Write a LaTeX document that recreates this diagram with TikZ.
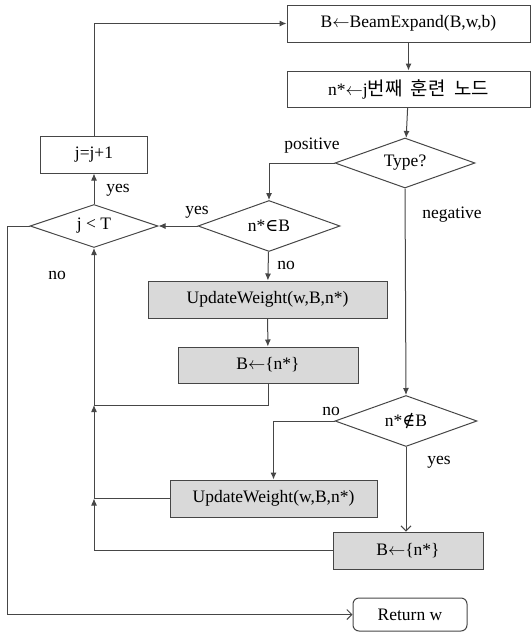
\documentclass[tikz,border=0pt]{standalone}
\usepackage{fontspec}
\setmainfont{Liberation Serif}
\newfontfamily\krfont[Scale=1.08]{Noto Sans CJK KR}
\newfontfamily\symfont{DejaVu Serif}
\usetikzlibrary{shapes.geometric,arrows.meta}
\definecolor{flowline}{RGB}{70,70,70}
\definecolor{flowgray}{RGB}{217,217,217}

\begin{document}
\begin{tikzpicture}[x=1pt,y=-1pt,
    font=\fontsize{17.5}{20}\selectfont,
    box/.style={draw=flowline, line width=1pt, inner sep=0pt},
    proc/.style={box, rectangle, minimum height=37pt},
    procgray/.style={proc, fill=flowgray},
    decide/.style={box, diamond, aspect=2.8},
    flow/.style={draw=flowline, line width=1pt, -{Latex[length=7pt,width=6pt]}},
    openflow/.style={draw=flowline, line width=1pt, -{Straight Barb[length=5pt,width=10pt]}},
    lbl/.style={inner sep=0pt}]
    \useasboundingbox (0,0) rectangle (532,632);

    % Main loop
    \node[proc, minimum width=243pt] (expand) at (408.5,23.5) {B$\leftarrow$BeamExpand(B,w,b)};
    \node[proc, minimum width=243pt, minimum height=36pt] (pick) at (408.5,89) {n*$\leftarrow$j{\krfont 번째\hspace{0.45em}훈련\hspace{0.45em}노드}};
    \node[decide, minimum width=140pt, minimum height=50pt] (type) at (405,163) {Type?};

    % Counter
    \node[proc, minimum width=107pt] (inc) at (94,154.5) {j=j+1};
    \node[decide, minimum width=128pt, minimum height=43pt] (loop) at (94,226) {j < T};

    % Positive branch
    \node[decide, minimum width=142pt, minimum height=51pt] (inB) at (269,226) {n*{\symfont ∈}B};
    \node[procgray, minimum width=239pt] (upd1) at (267.5,299.5) {UpdateWeight(w,B,n*)};
    \node[procgray, minimum width=180pt, minimum height=36pt] (set1) at (268,365) {B$\leftarrow$\{n*\}};

    % Negative branch
    \node[decide, minimum width=142pt, minimum height=51pt] (notinB) at (406,421) {n*{\symfont ∉}B};
    \node[procgray, minimum width=207pt] (upd2) at (273.5,498.5) {UpdateWeight(w,B,n*)};
    \node[procgray, minimum width=150pt] (set2) at (408,550.5) {B$\leftarrow$\{n*\}};

    % End
    \node[box, rounded corners=6pt, minimum width=114pt, minimum height=33pt] (ret) at (410,614.5) {Return w};

    \coordinate (m1) at (94,405);
    \coordinate (m2) at (94,498.5);
    \coordinate (rail) at (7,226);

    % Arrows
    \draw[flow] (expand) -- (pick);
    \draw[flow] (pick) -- (type);
    \draw[flow] (type.west) -| (inB.north);
    \draw[flow] (inB.west) -- (loop.east);
    \draw[flow] (inB) -- (upd1);
    \draw[flow] (upd1) -- (set1);
    \draw[flow] (set1.south) |- (m1) -- (loop.south);
    \draw[flow] (upd2.west) -- (m2) -- (m1);
    \draw[flow] (set2.west) -| (m2);
    \draw[flow] (loop) -- (inc);
    \draw[flow] (inc.north) |- (expand.west);
    \draw[flow] (type.south) -- (notinB.north);
    \draw[flow] (notinB.west) -| (upd2.north);
    \draw[openflow] (notinB.south) -- (notinB.south |- set2.north);
    \draw[openflow] (loop.west) -- (rail) |- (ret.west);

    % Labels
    \node[lbl] (lpos) at (312,146) {positive};
    \node[lbl] (lneg) at (452,215) {negative};
    \node[lbl] (lyes1) at (118,190) {yes};
    \node[lbl] (lyes2) at (197,212) {yes};
    \node[lbl] (lno1) at (57,275) {no};
    \node[lbl] (lno2) at (286,265) {no};
    \node[lbl] (lno3) at (331,411) {no};
    \node[lbl] (lyes3) at (439,462) {yes};
\end{tikzpicture}
\end{document}
